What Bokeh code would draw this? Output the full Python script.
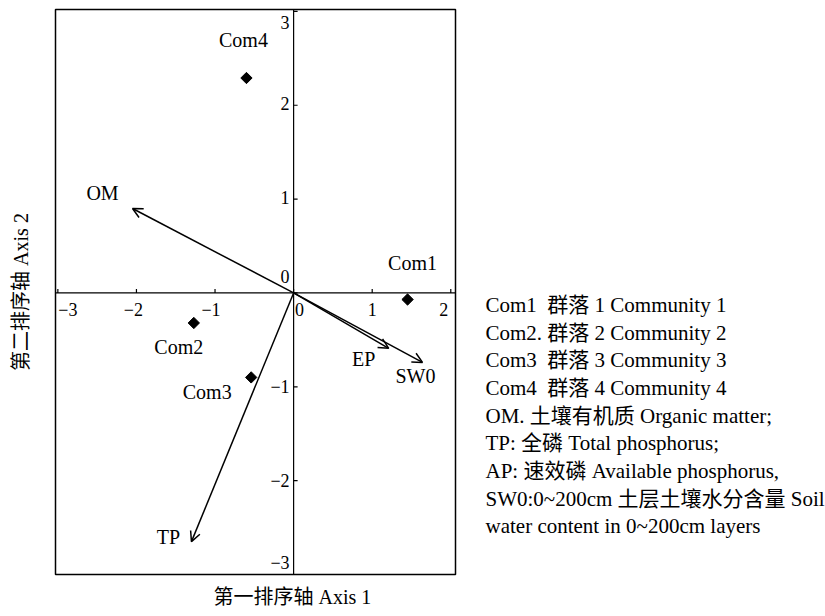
import math
from bokeh.plotting import figure
from bokeh.layouts import row
from bokeh.models import (ColumnDataSource, Range1d, Arrow, OpenHead,
                          FixedTicker, LinearAxis, Span, Title)
from bokeh.core.properties import value
from bokeh.embed import file_html
from bokeh.resources import INLINE

# ---- data ----
com_names = ["Com1", "Com2", "Com3", "Com4"]
com_x = [1.45, -1.27, -0.54, -0.60]
com_y = [-0.07, -0.32, -0.90, 2.29]

env_names = ["OM", "TP", "EP", "SW0"]
env_x = [-2.05, -1.30, 1.21, 1.64]
env_y = [0.90, -2.65, -0.59, -0.74]

x_ticks = [-3, -2, -1, 0, 1, 2]
y_ticks = [-3, -2, -1, 0, 1, 2, 3]

NB = "\u00a0"
legend_lines = [
    "Com1" + NB + NB + "群落 1 Community 1",
    "Com2. 群落 2 Community 2",
    "Com3" + NB + NB + "群落 3 Community 3",
    "Com4" + NB + NB + "群落 4 Community 4",
    "OM. 土壤有机质 Organic matter;",
    "TP: 全磷 Total phosphorus;",
    "AP: 速效磷 Available phosphorus,",
    "SW0:0~200cm 土层土壤水分含量 Soil",
    "water content in 0~200cm layers",
]
x_title = "第一排序轴 Axis 1"
y_title = "第二排序轴 Axis 2"

# label offsets (screen px) -- layout only
com_dx = [5, -15, -44, -3]
com_dy = [-37, 24, 15, -38]
env_dx = [-30, -23, -25, -7]
env_dy = [-15, -5, 11, 14]
xt_dx = [10, -3, -4, 6, 0, -7]
yt_dy = [-12, 0, 0, -16, -2, -2, 11]

FONT = "Liberation Serif, Noto Sans CJK SC"
minus = lambda v: ("−" + str(abs(v))) if v < 0 else str(v)

p = figure(width=465, height=616, output_backend="svg", toolbar_location=None,
           x_range=Range1d(-3.03, 2.06), y_range=Range1d(-3.0, 3.02),
           x_axis_location=None, y_axis_location=None,
           min_border_left=55, min_border_right=10, min_border_top=9,
           min_border_bottom=41)
p.grid.visible = False
p.outline_line_color = "black"
p.outline_line_width = 1.5
p.background_fill_color = "white"
p.border_fill_color = "white"

# axis titles outside the frame
p.add_layout(Title(text=x_title, align="left", offset=158, standoff=18,
                   text_font=FONT, text_font_size="20px", text_font_style="normal",
                   text_color="black"), "below")
p.add_layout(LinearAxis(axis_label=y_title, ticker=FixedTicker(ticks=[]),
                        axis_line_color=None, major_tick_line_color=None,
                        minor_tick_line_color=None, axis_label_standoff=24,
                        axis_label_text_font=FONT, axis_label_text_font_size="20px",
                        axis_label_text_font_style="normal",
                        axis_label_text_color="black"), "left")

# axes through the origin
p.add_layout(Span(location=0, dimension="width", line_color="black", line_width=1.2))
p.add_layout(Span(location=0, dimension="height", line_color="black", line_width=1.2))

# tick marks
p.ray(x=x_ticks, y=[0] * len(x_ticks), length=4, length_units="screen",
      angle=math.pi / 2, line_color="black", line_width=1.2)
p.ray(x=[0] * len(y_ticks), y=y_ticks, length=4, length_units="screen",
      angle=0, line_color="black", line_width=1.2)

# tick labels
xt_src = ColumnDataSource(dict(x=x_ticks, y=[0] * len(x_ticks),
                               t=[minus(v) for v in x_ticks], dx=xt_dx))
p.text(x="x", y="y", text="t", x_offset="dx", y_offset=17, source=xt_src,
       text_font=value(FONT), text_font_size="18px", text_align="center",
       text_baseline="middle", text_color="black")
yt_src = ColumnDataSource(dict(x=[0] * len(y_ticks), y=y_ticks,
                               t=[minus(v) for v in y_ticks], dy=yt_dy))
p.text(x="x", y="y", text="t", x_offset=-4, y_offset="dy", source=yt_src,
       text_font=value(FONT), text_font_size="18px", text_align="right",
       text_baseline="middle", text_color="black")

# arrows
env_src = ColumnDataSource(dict(x=env_x, y=env_y, name=env_names, dx=env_dx, dy=env_dy))
p.add_layout(Arrow(end=OpenHead(size=10, line_width=1.5), x_start=0, y_start=0,
                   x_end="x", y_end="y", source=env_src, line_width=1.5,
                   line_color="black"))
p.text(x="x", y="y", text="name", x_offset="dx", y_offset="dy", source=env_src,
       text_font=value(FONT), text_font_size="20px", text_align="center",
       text_baseline="middle", text_color="black")

# communities
com_src = ColumnDataSource(dict(x=com_x, y=com_y, name=com_names, dx=com_dx, dy=com_dy))
p.scatter(x="x", y="y", source=com_src, marker="square", angle=0.7854, size=8,
          color="black")
p.text(x="x", y="y", text="name", x_offset="dx", y_offset="dy", source=com_src,
       text_font=value(FONT), text_font_size="20px", text_align="center",
       text_baseline="middle", text_color="black")

# legend panel (coordinates = page pixels)
lg = figure(width=360, height=616, output_backend="svg", toolbar_location=None,
            x_range=Range1d(465, 825), y_range=Range1d(575, 9),
            min_border_left=0, min_border_right=0, min_border_top=9,
            min_border_bottom=41, x_axis_location=None, y_axis_location=None)
lg.grid.visible = False
lg.outline_line_color = None
lg_y = [305 + 27.7 * k for k in range(len(legend_lines))]
lg_src = ColumnDataSource(dict(t=legend_lines, y=lg_y, x=[485] * len(legend_lines)))
lg.text(x="x", y="y", text="t", source=lg_src, text_font=value(FONT),
        text_font_size="21px", text_align="left", text_baseline="middle",
        text_color="black")

layout = row(p, lg)
open("out.html", "w").write(file_html(layout, INLINE))
